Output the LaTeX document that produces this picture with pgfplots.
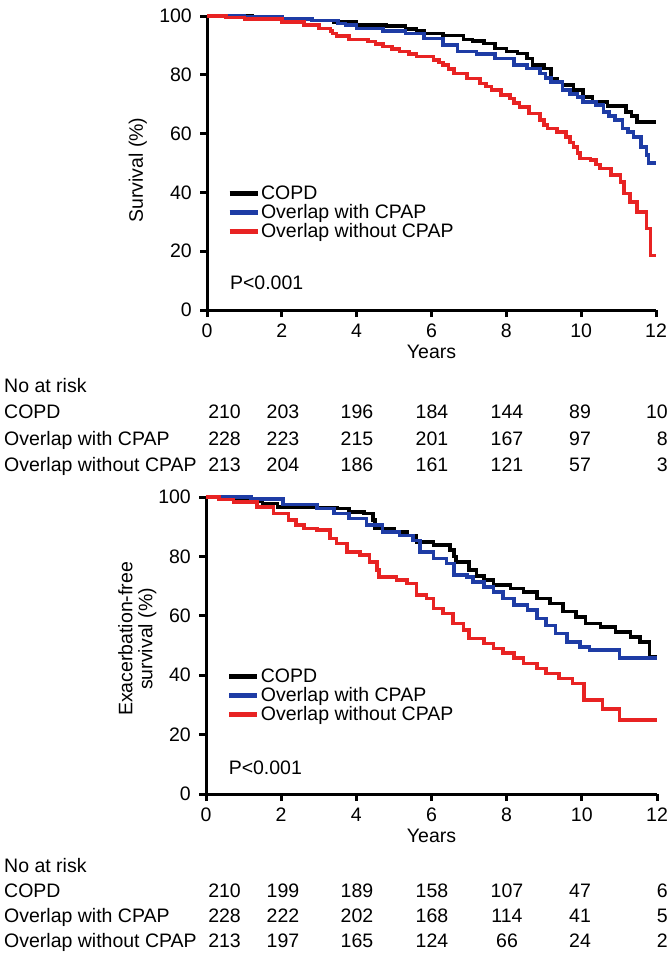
\documentclass[border=0pt]{standalone}
\usepackage{fontspec}
\setmainfont{Liberation Sans}
\usepackage{pgfplots}
\pgfplotsset{compat=1.18}
\definecolor{kmblue}{RGB}{30,60,165}
\definecolor{kmred}{RGB}{232,35,35}
\newcommand\fnt{\fontsize{19.5bp}{22bp}\selectfont}
\pgfplotsset{
  km/.style={
    scale only axis,
    xmin=0, xmax=12, ymin=0, ymax=100,
    axis x line=bottom, axis y line=left,
    axis line style={-, line width=3bp, black},
    xtick={0,2,...,12}, ytick={0,20,...,100},
    tick align=outside, major tick length=7bp,
    tick style={line width=3bp, black},
    tick label style={font=\fnt, inner sep=0pt},
    xticklabel style={anchor=north, yshift=-7bp},
    yticklabel style={anchor=east, xshift=-8bp},
    /pgf/number format/assume math mode=true,
    label style={font=\fnt},
    xlabel={Years},
    clip=false,
    legend cell align=left,
    legend style={draw=none, fill=none, font=\fnt, inner sep=0pt, row sep=3.5bp,
      column sep=1bp, nodes={inner sep=0pt}, anchor=north west},
    legend image code/.code={\draw[#1, line width=5bp] (0bp,0bp) -- (28bp,0bp);},
  },
  kmline/.style={const plot mark left, no marks, line width=3.6bp},
}
\newcommand\riskrow[9]{%
  \node[anchor=base west] at (4bp,-#1) {#2};
  \node[anchor=base east] at (241bp,-#1) {#3};
  \node[anchor=base] at (283bp,-#1) {#4};
  \node[anchor=base] at (357bp,-#1) {#5};
  \node[anchor=base] at (432bp,-#1) {#6};
  \node[anchor=base] at (507bp,-#1) {#7};
  \node[anchor=base] at (580bp,-#1) {#8};
  \node[anchor=base east] at (668bp,-#1) {#9};
}
\begin{document}
\begin{tikzpicture}[font=\fnt, every node/.append style={inner sep=0pt}]
\path[use as bounding box] (0,0) rectangle (669bp,-974bp);
% ---------- Top panel: overall survival ----------
\begin{axis}[km, at={(207bp,-310bp)}, anchor=south west,
  width=449bp, height=294bp,
  ylabel={Survival (\%)},
  ylabel style={at={(axis description cs:-0.154,0.476)}, anchor=center},
  xlabel style={at={(axis description cs:0.5,-0.143)}, anchor=center},
  legend style={at={(axis cs:0.53,42.2)}},
]
\addplot[kmline, black] coordinates {
(0,100)(1.2,99.5)(2.0,99)(2.8,98.5)(3.4,98)(4.0,97)(4.8,96.5)(5.3,95.5)(5.6,94.8)(5.8,94.1)(6.3,93.3)(6.85,92)(7.1,91.5)(7.4,90.7)(7.7,89)(8.0,87.9)(8.3,87.3)(8.55,85.6)(8.7,83.3)(9.0,82.2)(9.2,78.8)(9.35,77.5)(9.5,76.5)(9.8,74.8)(10.05,72.5)(10.3,70.8)(10.7,69.4)(11.2,67.4)(11.35,66)(11.5,64)(12,64)};
\addlegendentry{COPD}
\addplot[kmline, kmblue] coordinates {
(0,100)(1.0,99.7)(2,99)(2.8,98.5)(3.5,97.5)(3.7,97)(4.0,95.8)(4.7,95)(5.3,94.1)(5.8,92.4)(6.3,90.1)(6.7,87.9)(7.2,87)(7.7,85.6)(8.2,83.3)(8.55,82.2)(8.9,80.5)(9.05,79)(9.2,77.6)(9.5,74.8)(9.7,73.5)(9.9,72.5)(10.05,70.8)(10.4,69.7)(10.6,67.4)(10.75,66)(10.9,64.6)(11.1,61.7)(11.25,60.5)(11.4,58.9)(11.6,55.5)(11.75,52.7)(11.8,50)(12,50)};
\addlegendentry{Overlap with CPAP}
\addplot[kmline, kmred] coordinates {
(0,100)(0.5,99.5)(1.0,99)(2.0,98)(2.6,97)(3.0,95.8)(3.3,95)(3.35,94)(3.46,93.2)(3.8,92)(4.3,91.3)(4.5,90.5)(4.7,89.6)(4.95,88.7)(5.15,87.9)(5.4,87)(5.6,86.2)(6.05,85)(6.2,84.2)(6.3,83.3)(6.45,82)(6.6,80.5)(6.95,78.8)(7.3,77.1)(7.45,76)(7.6,74.8)(7.85,73.1)(8.1,72)(8.2,70.5)(8.35,69.1)(8.6,66.9)(8.9,64.6)(9.0,63)(9.1,61.7)(9.35,60.6)(9.6,58.9)(9.7,57)(9.8,55.5)(9.9,53.5)(9.97,51.5)(10.25,51)(10.4,49.5)(10.5,48.1)(10.8,45.9)(11.05,43.6)(11.15,39.6)(11.3,36.8)(11.5,33.4)(11.75,27.7)(11.85,18.6)(12,18.6)};
\addlegendentry{Overlap without CPAP}
\node[anchor=base west, font=\fnt] at (axis cs:0.61,7.0) {P<0.001};
\end{axis}
% ---------- Bottom panel: exacerbation-free survival ----------
\begin{axis}[km, at={(206bp,-794bp)}, anchor=south west,
  width=451bp, height=297bp,
  ylabel={Exacerbation-free\\survival (\%)},
  ylabel style={at={(axis description cs:-0.152,0.522)}, anchor=center, align=center,
    font=\fontsize{19.5bp}{20bp}\selectfont},
  xlabel style={at={(axis description cs:0.5,-0.141)}, anchor=center},
  legend style={at={(axis cs:0.55,42.2)}},
]
\addplot[kmline, black] coordinates {
(0,100)(0.5,99.6)(1.17,98.7)(1.5,97.8)(1.9,96.6)(2.9,96.5)(3.5,96.1)(3.8,95)(4.2,94.4)(4.45,92.2)(4.5,89.4)(5.0,88.2)(5.35,87.1)(5.6,84.9)(6.05,83.8)(6.5,82.1)(6.6,80)(6.65,78.2)(7.0,75.4)(7.2,73.5)(7.4,72)(7.65,70.3)(8.1,69.2)(8.45,68.1)(8.8,65.8)(9.15,64.2)(9.5,61.4)(9.85,59.7)(10.1,57.4)(10.5,56.3)(10.9,54.6)(11.3,52.9)(11.55,51.2)(11.8,46.3)(12,46.3)};
\addlegendentry{COPD}
\addplot[kmline, kmblue] coordinates {
(0,100)(1.2,99.4)(2.05,97.5)(2.95,96.1)(3.4,94.4)(3.8,92.7)(4.27,90.5)(4.7,88.2)(5.15,87.1)(5.5,85.4)(5.7,81.5)(6.05,79.3)(6.4,77.6)(6.6,73.7)(6.95,73.1)(7.1,71.4)(7.4,69.7)(7.65,68.1)(7.9,65.8)(8.2,63.6)(8.55,61.9)(8.8,59.1)(9.05,56.8)(9.3,54)(9.6,51.2)(9.95,49.5)(10.2,48.5)(11.0,45.7)(12,45.7)};
\addlegendentry{Overlap with CPAP}
\addplot[kmline, kmred] coordinates {
(0,100)(0.35,99.2)(0.73,98.3)(1.35,96.6)(1.8,94.4)(2.2,92.2)(2.4,90.5)(2.6,89.4)(2.95,88.8)(3.3,86)(3.47,84.3)(3.75,81.5)(4.1,80.4)(4.35,78.2)(4.55,75.4)(4.6,73.1)(5.07,72)(5.35,70.9)(5.6,67)(5.87,65.8)(6.05,62.5)(6.3,60.8)(6.57,57.4)(6.85,55.2)(7.0,52.4)(7.4,50.7)(7.65,49)(7.9,47.4)(8.2,45.7)(8.45,44)(8.8,42.3)(9.05,40.6)(9.4,38.9)(9.75,37.2)(10.05,35)(10.06,31.6)(10.55,28.6)(11.0,25)(12,25)};
\addlegendentry{Overlap without CPAP}
\node[anchor=base west, font=\fnt] at (axis cs:0.6,6.5) {P<0.001};
\end{axis}
% ---------- Numbers at risk ----------
\node[anchor=base west] at (4bp,-392bp) {No at risk};
\riskrow{418.5bp}{COPD}{210}{203}{196}{184}{144}{89}{10}
\riskrow{445bp}{Overlap with CPAP}{228}{223}{215}{201}{167}{97}{8}
\riskrow{471.5bp}{Overlap without CPAP}{213}{204}{186}{161}{121}{57}{3}
\node[anchor=base west] at (4bp,-872bp) {No at risk};
\riskrow{897bp}{COPD}{210}{199}{189}{158}{107}{47}{6}
\riskrow{922bp}{Overlap with CPAP}{228}{222}{202}{168}{114}{41}{5}
\riskrow{947bp}{Overlap without CPAP}{213}{197}{165}{124}{66}{24}{2}
\end{tikzpicture}
\end{document}
